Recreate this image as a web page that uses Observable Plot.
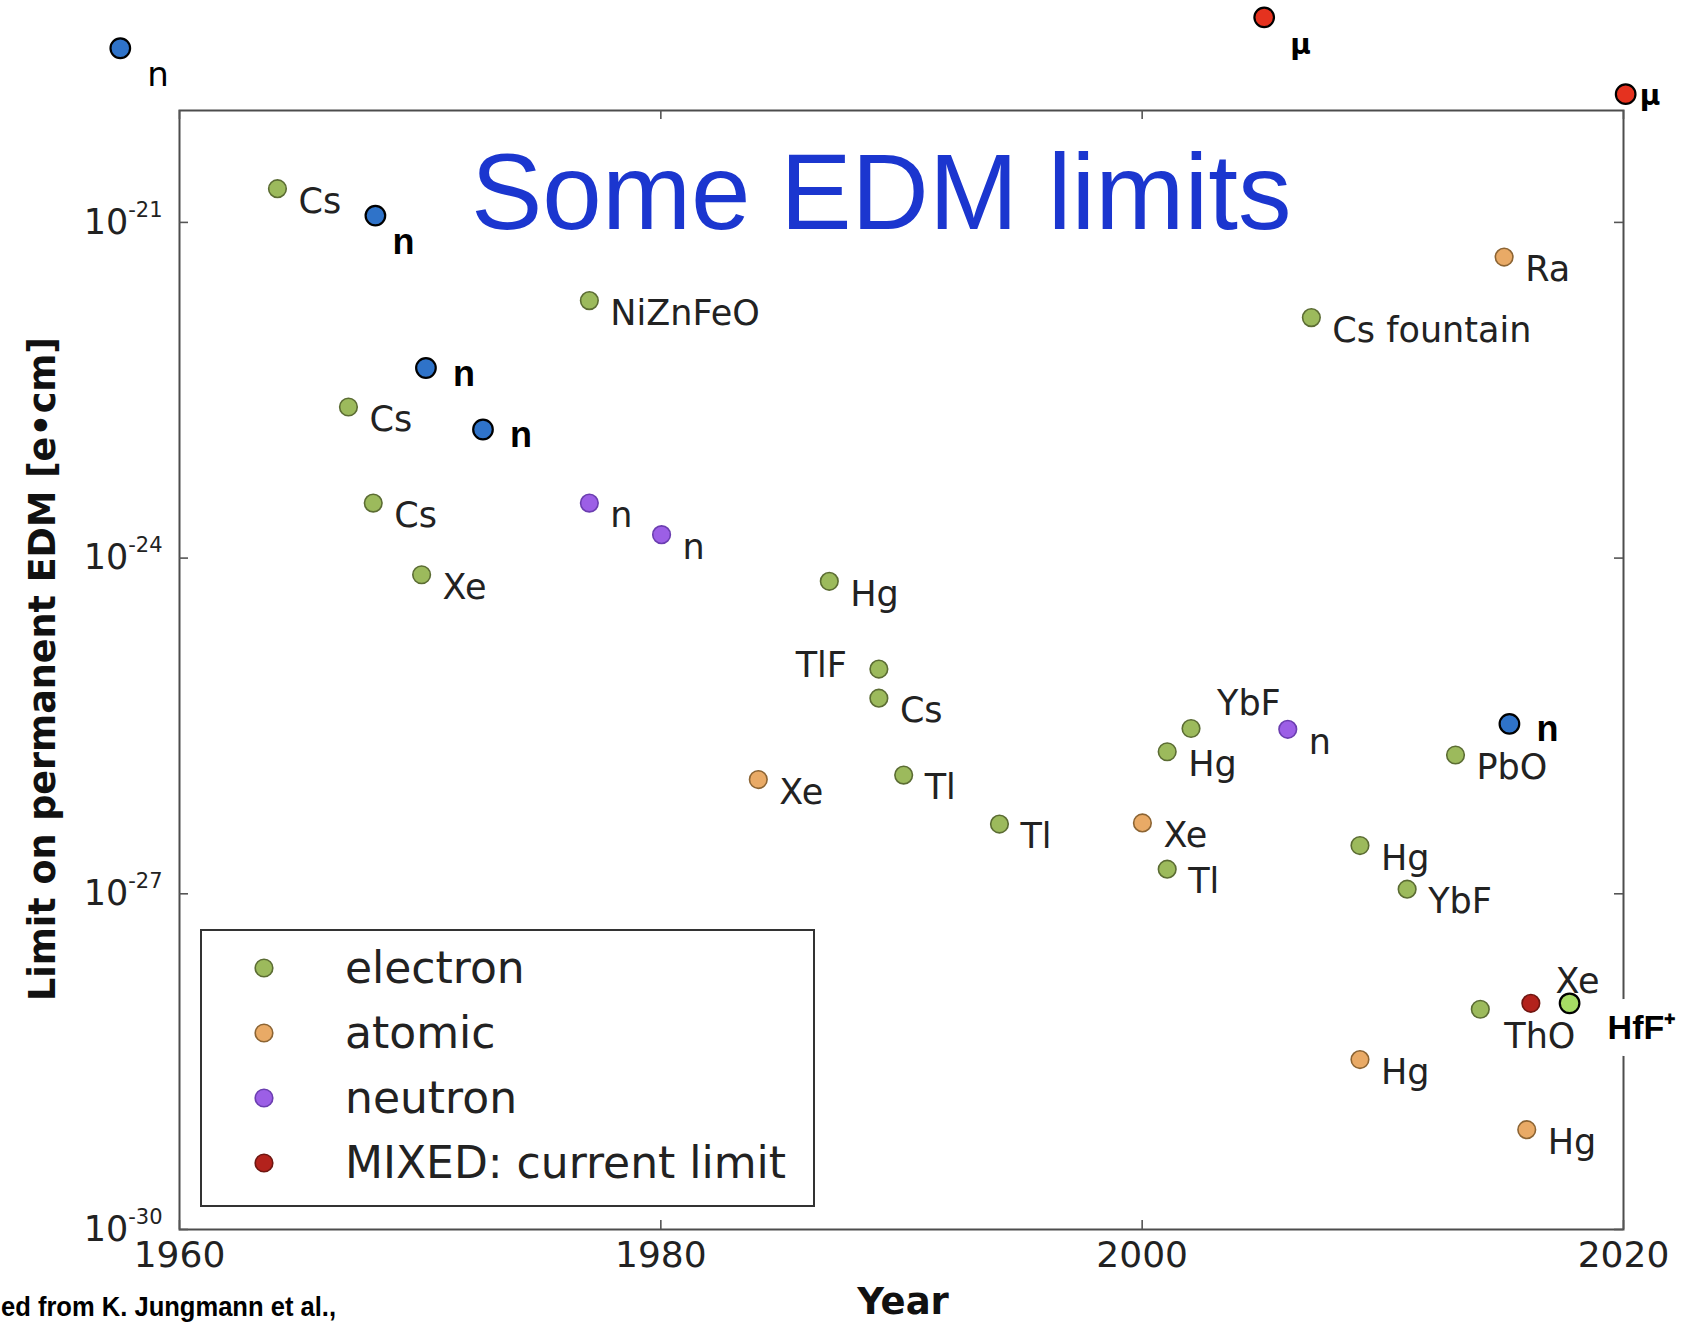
<!DOCTYPE html>
<html><head><meta charset="utf-8">
<script src="https://cdn.jsdelivr.net/npm/d3@7"></script>
<script src="https://cdn.jsdelivr.net/npm/@observablehq/plot@0.6"></script>
<style>
html,body{margin:0;padding:0;background:#fff;}
#chart{position:relative;width:1689px;height:1325px;overflow:hidden;background:#fff;}
</style></head><body><div id="chart"></div>
<script>
// ---- data ----
const labels = ["Cs","n","NiZnFeO","n","Cs","n","Cs","n","n","Xe","Hg","TlF","Cs","Xe","Tl","Tl","YbF","Hg","n","Xe","Tl","n","PbO","Hg","YbF","Ra","Cs fountain","ThO","","Xe","HfF\u207A","Hg","Hg","n","\u03BC","\u03BC"];
const groups = ["electron","neutron (new)","electron","neutron (new)","electron","neutron (new)","electron","neutron","neutron","electron","electron","electron","electron","atomic","electron","electron","electron","electron","neutron","atomic","electron","neutron (new)","electron","electron","electron","atomic","electron","electron","mixed","atomic","HfF+","atomic","atomic","neutron (new)","muon","muon"];
const years = [1964.07,1968.14,1977.03,1970.24,1967.02,1972.61,1968.05,1977.03,1980.03,1970.06,1987.0,1989.06,1989.06,1984.05,1990.09,1994.07,2002.03,2001.04,2006.05,2000.01,2001.04,2015.26,2013.02,2009.05,2011.01,2015.04,2007.03,2014.05,2016.15,2017.76,2017.76,2009.05,2015.98,1957.54,2005.07,2020.09];
const limits = [2.0e-21,1.15e-21,2.0e-22,5.0e-23,2.24e-23,1.41e-23,3.1e-24,3.1e-24,1.62e-24,7.1e-25,6.2e-25,1.02e-25,5.6e-26,1.05e-26,1.15e-26,4.2e-27,3.0e-26,1.86e-26,2.95e-26,4.3e-27,1.66e-27,3.3e-26,1.74e-26,2.7e-27,1.1e-27,4.9e-22,1.41e-22,9.3e-29,1.05e-28,1.05e-28,1.05e-28,3.3e-29,7.8e-30,3.6e-20,6.8e-20,1.4e-20];
const placements = ["br","bn","br","rn","br","rn","br","br","br","br","br","l","br","br","br","br","ar","br","br","br","br","rn","br","br","br","br","br","bt","none","a","hf","br","br","bnw","mu","r"];
const legendGroups = ["electron","atomic","neutron","mixed"];
const legendLabels = ["electron","atomic","neutron","MIXED: current limit"];
const xTicks = [1960,1980,2000,2020];
const yTicks = [1e-30,1e-27,1e-24,1e-21];
const titleText = "Some EDM limits";
const yLabel = "Limit on permanent EDM [e\u2022cm]";
const xLabel = "Year";
const captionText = "ed from K. Jungmann et al.,";

// ---- styles ----
const fills = {"electron":"#9cba5c","atomic":"#e9aa66","neutron":"#9c5fe6","mixed":"#b3221c","neutron (new)":"#2f73c9","muon":"#e5321f","HfF+":"#a6dc64"};
const strokes = {"electron":"#5b6c33","atomic":"#8c6433","neutron":"#6b3eb0","mixed":"#6f1611","neutron (new)":"#000","muon":"#000","HfF+":"#000"};
const outlined = new Set(["neutron (new)","muon","HfF+"]);
const reg = {fontSize:35, fontWeight:"normal", fill:"#222", fontFamily:"DejaVu Sans"};
const boldN = {fontSize:36, fontWeight:"bold", fill:"#000", fontFamily:"Liberation Sans"};
const labelStyles = {
  br:{dx:21, dy:13, textAnchor:"start", ...reg},
  l:{dx:-32, dy:-3, textAnchor:"end", ...reg},
  ar:{dx:26, dy:-25, textAnchor:"start", ...reg},
  a:{dx:8, dy:-22, textAnchor:"middle", ...reg},
  bt:{dx:24, dy:28, textAnchor:"start", ...reg},
  rn:{dx:27, dy:6, textAnchor:"start", ...boldN},
  bn:{dx:17, dy:27, textAnchor:"start", ...boldN},
  bnw:{dx:27, dy:27, textAnchor:"start", fontSize:34, fontWeight:"normal", fill:"#000", fontFamily:"DejaVu Sans"},
  mu:{dx:26, dy:28, textAnchor:"start", fontSize:28, fontWeight:"bold", fill:"#000", fontFamily:"DejaVu Sans"},
  r:{dx:14, dy:2, textAnchor:"start", fontSize:28, fontWeight:"bold", fill:"#000", fontFamily:"DejaVu Sans"},
  hf:{dx:38, dy:25, textAnchor:"start", fontSize:34, fontWeight:"bold", fill:"#000", fontFamily:"Liberation Sans"}
};

const rows = years.map((year,i)=>({year, limit:limits[i], label:labels[i], group:groups[i], place:placements[i]}));

const W=1689, H=1325, mL=179, mR=66, mT=110, mB=96;
const plotW = W-mL-mR, plotH = H-mT-mB;
const tickStyle = {stroke:"#555", strokeWidth:1.6};

const textMarks = Object.keys(labelStyles).filter(k=>k!=="hf").map(k=>{
  const s = labelStyles[k];
  return Plot.text(rows.filter(d=>d.place===k), {x:"year", y:"limit", text:"label", lineAnchor:"middle", ...s});
});

const svg = Plot.plot({
  width:W, height:H, marginLeft:mL, marginRight:mR, marginTop:mT, marginBottom:mB,
  style:{background:"white", color:"#222", fontFamily:"DejaVu Sans", overflow:"visible"},
  x:{domain:[1960,2020]},
  y:{type:"log", domain:[1e-30,1e-20]},
  marks:[
    Plot.frame({stroke:"#4d4d4d", strokeWidth:2}),
    Plot.tickX(xTicks, {x:d=>d, insetTop:plotH-9, ...tickStyle}),
    Plot.tickX(xTicks, {x:d=>d, insetBottom:plotH-9, ...tickStyle}),
    Plot.tickY(yTicks, {y:d=>d, insetRight:plotW-9, ...tickStyle}),
    Plot.tickY(yTicks, {y:d=>d, insetLeft:plotW-9, ...tickStyle}),
    Plot.axisX({ticks:xTicks, tickSize:0, tickPadding:12, fontSize:36, tickFormat:d=>String(d), label:null}),
    Plot.axisY({ticks:yTicks, tickSize:0, tickPadding:17, fontSize:35, tickFormat:d=>"10^-"+Math.round(-Math.log10(d)), label:null}),
    Plot.text(rows.filter(d=>d.place==="hf"), {x:"year", y:"limit", text:"label", lineAnchor:"middle", stroke:"white", strokeWidth:34, strokeLinejoin:"round", ...labelStyles.hf}),
    Plot.dot(rows.filter(d=>!outlined.has(d.group)), {x:"year", y:"limit", r:8.8, fill:d=>fills[d.group], stroke:d=>strokes[d.group], strokeWidth:1.6}),
    Plot.dot(rows.filter(d=>outlined.has(d.group)), {x:"year", y:"limit", r:9.8, fill:d=>fills[d.group], stroke:d=>strokes[d.group], strokeWidth:2.2}),
    ...textMarks
  ]
});

const s = d3.select(svg);
// superscript exponents on y tick labels
s.selectAll('[aria-label="y-axis tick label"] text').each(function(){
  const t = this.textContent; const parts = t.split("^");
  const el = d3.select(this); el.text(null);
  el.append("tspan").text(parts[0]);
  el.append("tspan").attr("dy", -17).attr("font-size", 21).text(parts[1]);
});
// title
s.append("text").attr("x",471).attr("y",229).attr("text-anchor","start").attr("font-family","Liberation Sans, Arial, sans-serif")
  .attr("font-size",107).attr("fill","#1b36cf").text(titleText);
// axis labels
s.append("text").attr("transform","translate(55,669) rotate(-90)").attr("text-anchor","middle")
  .attr("font-family","DejaVu Sans").attr("font-weight","bold").attr("font-size",36.5).attr("fill","#111").text(yLabel);
s.append("text").attr("x",903).attr("y",1314).attr("text-anchor","middle")
  .attr("font-family","DejaVu Sans").attr("font-weight","bold").attr("font-size",37).attr("fill","#111").text(xLabel);
// caption
s.append("text").attr("x",1).attr("y",1316).attr("text-anchor","start").attr("font-family","Liberation Sans, Arial, sans-serif")
  .attr("font-weight","bold").attr("font-size",28).attr("textLength",335).attr("lengthAdjust","spacingAndGlyphs")
  .attr("fill","#000").text(captionText);
// legend
const lg = s.append("g");
lg.append("rect").attr("x",201).attr("y",930).attr("width",613).attr("height",276)
  .attr("fill","white").attr("stroke","#333").attr("stroke-width",2);
legendGroups.forEach((g,i)=>{
  const cy = 968 + i*65;
  lg.append("circle").attr("cx",264).attr("cy",cy).attr("r",8.8).attr("fill",fills[g]).attr("stroke",strokes[g]).attr("stroke-width",1.6);
  lg.append("text").attr("x",345).attr("y",cy).attr("dy","0.35em").attr("text-anchor","start").attr("font-family","DejaVu Sans")
    .attr("font-size",44).attr("fill","#222").text(legendLabels[i]);
});

document.getElementById("chart").appendChild(svg);
</script>
</body></html>
